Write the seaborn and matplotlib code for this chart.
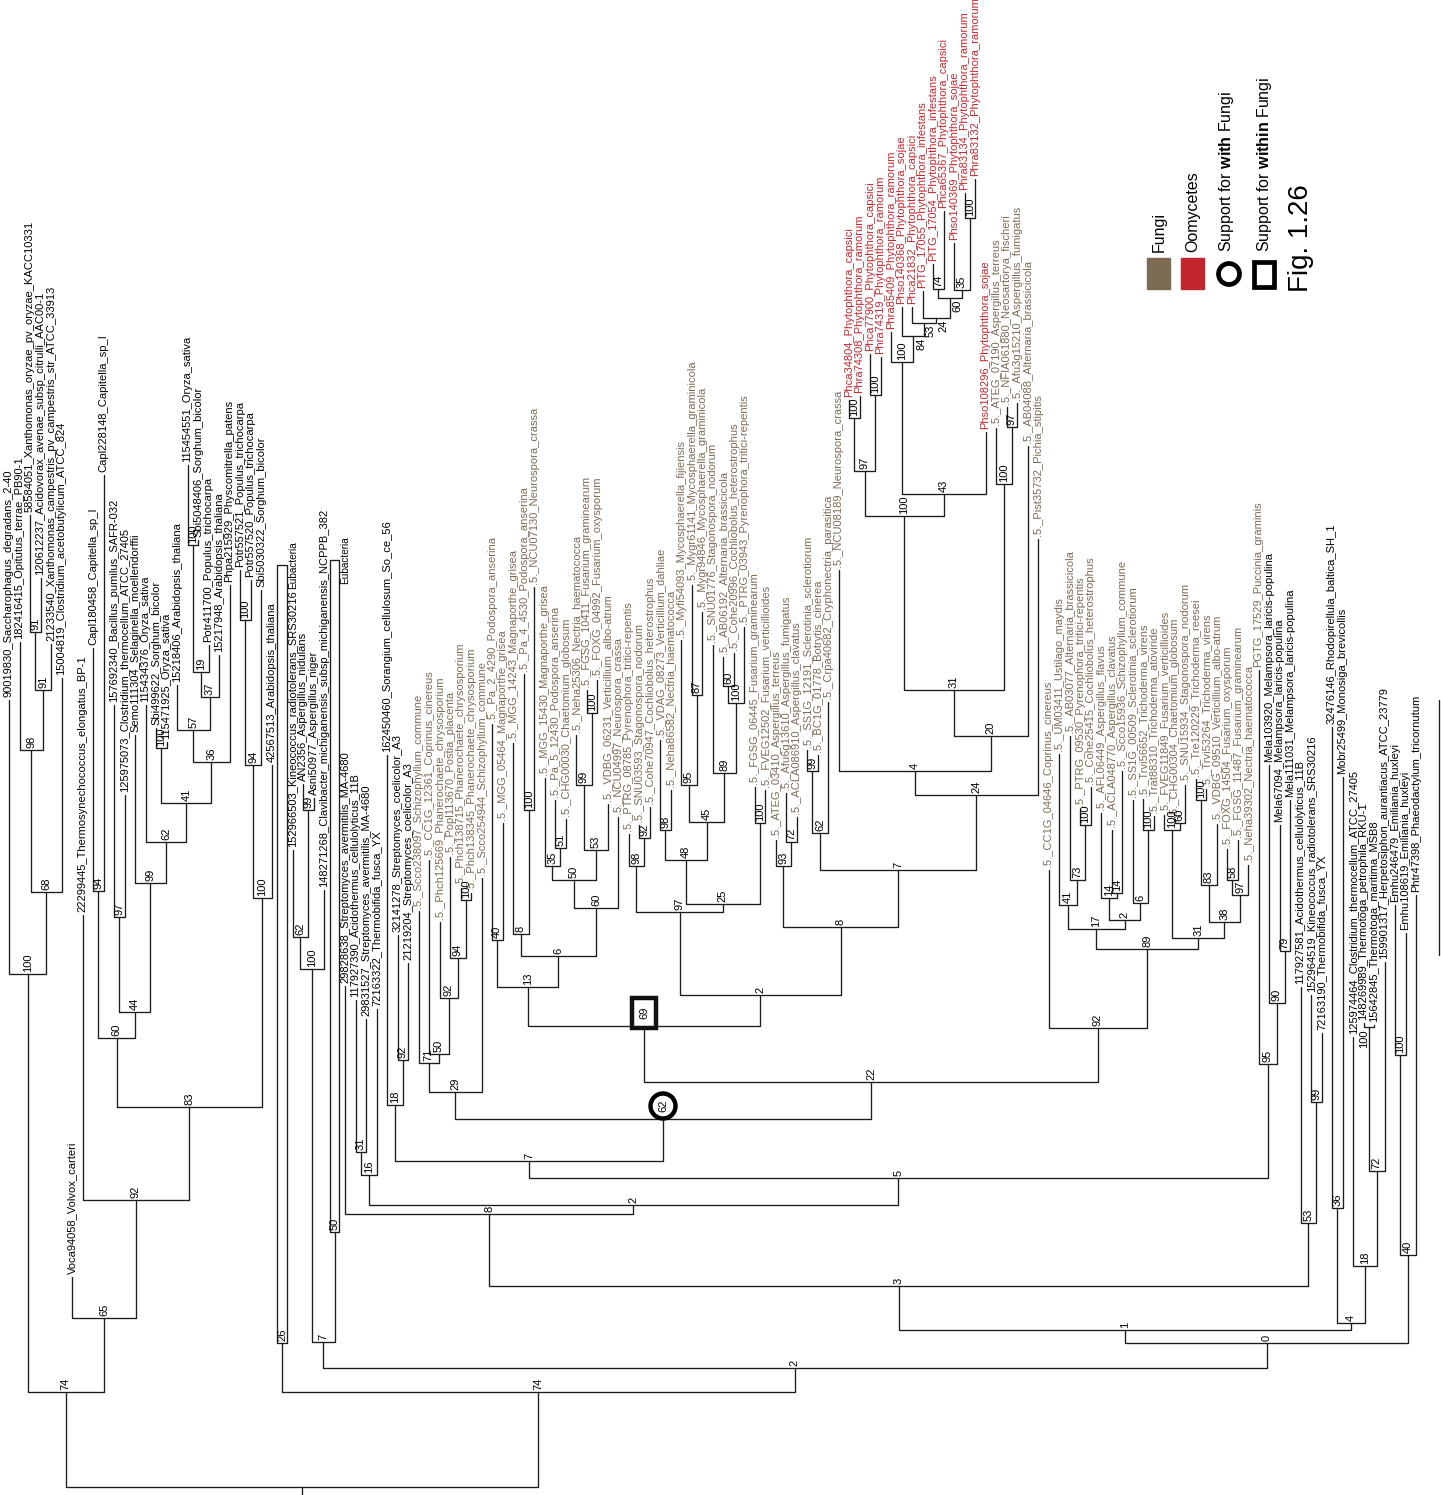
import matplotlib
matplotlib.use("Agg")
import pandas as pd
import matplotlib.pyplot as plt
from matplotlib import font_manager as fm
from matplotlib.patches import Rectangle, Ellipse
import seaborn as sns

# ---- leaves, left to right: (label, depth of the branch tip) ----
bacteria_left = [
    ("90019830_Saccharophagus_degradans_2-40", 700),
    ("182416415_Opitutus_terrae_PB90-1", 642),
    ("58584051_Xanthomonas_oryzae_pv_oryzae_KACC10331", 515),
    ("120612237_Acidovorax_avenae_subsp_citrulli_AAC00-1", 578),
    ("21233540_Xanthomonas_campestris_pv_campestris_str_ATCC_33913", 644),
    ("15004819_Clostridium_acetobutylicum_ATCC_824", 678),
]
plants = [
    ("Voca94058_Volvox_carteri", 1277),
    ("22299445_Thermosynechococcus_elongatus_BP-1", 915),
    ("Capl180458_Capitella_sp_I", 648),
    ("Capl228148_Capitella_sp_I", 475),
    ("157692340_Bacillus_pumilus_SAFR-032", 705),
    ("125975073_Clostridium_thermocellum_ATCC_27405", 795),
    ("Semo111304_Selaginella_moellendorffii", 735),
    ("115434376_Oryza_sativa", 705),
    ("Sbi499622_Sorghum_bicolor", 728),
    ("115471925_Oryza_sativa", 742),
    ("15218406_Arabidopsis_thaliana", 685),
    ("115454551_Oryza_sativa", 465),
    ("Sbi5048406_Sorghum_bicolor", 540),
    ("Potr411700_Populus_trichocarpa", 645),
    ("15217948_Arabidopsis_thaliana", 655),
    ("Phpa215929_Physcomitrella_patens", 585),
    ("Potr557521_Populus_trichocarpa", 570),
    ("Potr557520_Populus_trichocarpa", 580),
    ("Sbi5030322_Sorghum_bicolor", 590),
    ("42567513_Arabidopsis_thaliana", 765),
]
mixed_bacteria = [
    ("Eubacteria", 1343),
    ("152966503_Kineococcus_radiotolerans_SRS30216", 850),
    ("AN2356_Aspergillus_nidulans", 784),
    ("Asni50977_Aspergillus_niger", 798),
    ("148271268_Clavibacter_michiganensis_subsp_michiganensis_NCPPB_382", 890),
    ("Eubacteria", 1232),
    ("29828638_Streptomyces_avermitilis_MA-4680", 986),
    ("117927390_Acidothermus_cellulolyticus_11B", 1000),
    ("29831527_Streptomyces_avermitilis_MA-4680", 1019),
    ("72163322_Thermobifida_fusca_YX", 1009),
    ("162450460_Sorangium_cellulosum_So_ce_56", 755),
    ("32141278_Streptomyces_coelicolor_A3", 935),
    ("21219204_Streptomyces_coelicolor_A3", 963),
]
fungi_mid = [
    (".5._Scco238097_Schizophyllum_commune", 911),
    (".5._CC1G_12361_Coprinus_cinereus", 860),
    (".5._Phch125669_Phanerochaete_chrysosporium", 922),
    (".5._Popl113670_Postia_placenta", 857),
    (".5._Phch138715_Phanerochaete_chrysosporium", 888),
    (".5._Phch138345_Phanerochaete_chrysosporium", 893),
    (".5._Scco254944_Schizophyllum_commune", 878),
    (".5._Pa_2_4290_Podospora_anserina", 724),
    (".5._MGG_05464_Magnaporthe_grisea", 823),
    (".5._MGG_14243_Magnaporthe_grisea", 743),
    (".5._Pa_4_4530_Podospora_anserina", 674),
    (".5._NCU07130_Neurospora_crassa", 587),
    (".5._MGG_15430_Magnaporthe_grisea", 778),
    (".5._Pa_5_12430_Podospora_anserina", 800),
    (".5._CHG00030_Chaetomium_globosum", 819),
    (".5._Neha25306_Nectria_haematococca", 735),
    (".5._FGSG_10411_Fusarium_graminearum", 690),
    (".5._FOXG_04992_Fusarium_oxysporum", 680),
    (".5._VDBG_06231_Verticillium_albo-atrum", 804),
    (".5._NCU04997_Neurospora_crassa", 817),
    (".5._PTRG_08785_Pyrenophora_tritici-repentis", 834),
    (".5._SNU03593_Stagonospora_nodorum", 825),
    (".5._Cohe70947_Cochliobolus_heterostrophus", 807),
    (".5._VDAG_08273_Verticillium_dahliae", 740),
    (".5._Neha86582_Nectria_haematococca", 790),
    (".5._Myfi54093_Mycosphaerella_fijiensis", 640),
    (".5._Mygr61141_Mycosphaerella_graminicola", 585),
    (".5._Mygr94846_Mycosphaerella_graminicola", 612),
    (".5._SNU01776_Stagonospora_nodorum", 645),
    (".5._AB06192_Alternaria_brassicicola", 657),
    (".5._Cohe20996_Cochliobolus_heterostrophus", 653),
    (".5._PTRG_03943_Pyrenophora_tritici-repentis", 627),
    (".5._FGSG_06445_Fusarium_graminearum", 787),
    (".5._FVEG12502_Fusarium_verticillioides", 790),
    (".5._ATEG_03410_Aspergillus_terreus", 840),
    (".5._Afu6g13610_Aspergillus_fumigatus", 793),
    (".5._ACLA086910_Aspergillus_clavatus", 817),
    (".5._SS1G_12191_Sclerotinia_sclerotiorum", 750),
    (".5._BC1G_01778_Botrytis_cinerea", 755),
    (".5._Crpa40682_Cryphonectria_parasitica", 702),
    (".5._NCU08189_Neurospora_crassa", 570),
]
oomycetes = [
    ("Phca34804_Phytophthora_capsici", 400),
    ("Phra74308_Phytophthora_ramorum", 396),
    ("Phca77900_Phytophthora_capsici", 354),
    ("Phra74319_Phytophthora_ramorum", 357),
    ("Phra85409_Phytophthora_ramorum", 332),
    ("Phso140368_Phytophthora_sojae", 307),
    ("Phca21832_Phytophthora_capsici", 307),
    ("PITG_17055_Phytophthora_infestans", 291),
    ("PITG_17054_Phytophthora_infestans", 264),
    ("Phca65367_Phytophthora_capsici", 211),
    ("Phso140369_Phytophthora_sojae", 243),
    ("Phra83134_Phytophthora_ramorum", 193),
    ("Phra83132_Phytophthora_ramorum", 179),
    ("Phso108296_Phytophthora_sojae", 432),
]
fungi_asco = [
    (".5._ATEG_07190_Aspergillus_terreus", 428),
    (".5._NFIA061880_Neosartorya_fischeri", 407),
    (".5._Afu3g15210_Aspergillus_fumigatus", 403),
    (".5._AB04088_Alternaria_brassicicola", 446),
    (".5._Pist35732_Pichia_stipitis", 539),
]
fungi_right = [
    (".5._CC1G_04646_Coprinus_cinereus", 870),
    (".5._UM03411_Ustilago_maydis", 754),
    (".5._AB03077_Alternaria_brassicicola", 736),
    (".5._PTRG_09530_Pyrenophora_tritici-repentis", 809),
    (".5._Cohe25415_Cochliobolus_heterostrophus", 787),
    (".5._AFL06449_Aspergillus_flavus", 813),
    (".5._ACLA048770_Aspergillus_clavatus", 830),
    (".5._Scco15936_Schizophyllum_commune", 771),
    (".5._SS1G_00509_Sclerotinia_sclerotiorum", 800),
    (".5._Trvi56652_Trichoderma_virens", 799),
    (".5._Trat88310_Trichoderma_atoviride", 816),
    (".5._FVEG11849_Fusarium_verticillioides", 815),
    (".5._CHG00304_Chaetomium_globosum", 819),
    (".5._SNU15934_Stagonospora_nodorum", 785),
    (".5._Tre120229_Trichoderma_reesei", 779),
    (".5._Trvi53264_Trichoderma_virens", 789),
    (".5._VDBG_09510_Verticillium_albo-atrum", 824),
    (".5._FOXG_14504_Fusarium_oxysporum", 849),
    (".5._FGSG_11487_Fusarium_graminearum", 840),
    (".5._Neha39302_Nectria_haematococca", 865),
]
others_right = [
    ("PGTG_17529_Puccinia_graminis", 670),
    ("Mela103920_Melampsora_laricis-populina", 765),
    ("Mela67094_Melampsora_laricis-populina", 825),
    ("Mela111031_Melampsora_laricis-populina", 800),
    ("117927581_Acidothermus_cellulolyticus_11B", 987),
    ("152964519_Kineococcus_radiotolerans_SRS30216", 995),
    ("72163190_Thermobifida_fusca_YX", 1033),
    ("32476146_Rhodopirellula_baltica_SH_1", 727),
    ("Mobr25499_Monosiga_brevicollis", 777),
    ("125974464_Clostridium_thermocellum_ATCC_27405", 1037),
    ("148269989_Thermotoga_petrophila_RKU-1", 1023),
    ("15642845_Thermotoga_maritima_MSB8", 1025),
    ("159901317_Herpetosiphon_aurantiacus_ATCC_23779", 962),
    ("Emhu246479_Emiliania_huxleyi", 905),
    ("Emhu108619_Emiliania_huxleyi", 933),
    ("Phtr47398_Phaeodactylum_tricornutum", 895),
]
# collapsed clades: leaf number -> depth of the top of the box
collapsed_top = {27: 565, 32: 560}

# ---- internal nodes: (id, left child, right child, support, depth) ----
# integers are leaf numbers (1-based, left to right)
outgroup_nodes = [
    ("n91a", 3, 4, 91, 632), ("n91b", "n91a", 5, 91, 690),
    ("n98", 2, "n91b", 98, 750), ("n68", "n98", 6, 68, 892),
    ("n100o", 1, "n68", 100, 974),
]
plant_nodes = [
    ("n94c", 9, 10, 94, 891), ("n97b", 11, 12, 97, 917),
    ("n100a", 15, 16, 100, 748), ("n100b", 18, 19, 100, 545),
    ("n19", "n100b", 20, 19, 672), ("n37", "n19", 21, 37, 697),
    ("n57", 17, "n37", 57, 730), ("n36", "n57", 22, 36, 762),
    ("n41", "n100a", "n36", 41, 803), ("n62p", 14, "n41", 62, 842),
    ("n99p", 13, "n62p", 99, 883), ("n44", "n97b", "n99p", 44, 1012),
    ("n60p", "n94c", "n44", 60, 1038), ("n100c", 23, 24, 100, 620),
    ("n94p", "n100c", 25, 94, 765), ("n100d", "n94p", 26, 100, 898),
    ("n83", "n60p", "n100d", 83, 1107), ("n92p", 8, "n83", 92, 1200),
    ("n65", 7, "n92p", 65, 1318), ("n74L", "n100o", "n65", 74, 1392),
]
bacteria_nodes = [
    ("n99k", 29, 30, 99, 810), ("n62k", 28, "n99k", 62, 937),
    ("n100k", "n62k", 31, 100, 969), ("n7k", "n100k", 32, 7, 1342),
    ("n31s", 34, 35, 31, 1152), ("n16", "n31s", 36, 16, 1175),
    ("n92s", 38, 39, 92, 1060), ("n18", 37, "n92s", 18, 1105),
]
basidio_nodes = [
    ("n100ph", 44, 45, 100, 900), ("n94ph", 43, "n100ph", 94, 958),
    ("n92ph", 42, "n94ph", 92, 998), ("n50ph", 41, "n92ph", 50, 1054),
    ("n71", 40, "n50ph", 71, 1063), ("n29", "n71", 46, 29, 1092),
]
sordario_nodes = [
    ("n40f", 47, 48, 40, 940), ("n100f", 50, 51, 100, 810),
    ("n8f", 49, "n100f", 8, 934), ("n51", 53, 54, 51, 848),
    ("n35", 52, "n51", 35, 866), ("n100fo", 56, 57, 100, 713),
    ("n99f", 55, "n100fo", 99, 785), ("n53", "n99f", 58, 53, 850),
    ("n50f", "n35", "n53", 50, 880), ("n60f", "n50f", 59, 60, 908),
    ("n6f", "n8f", "n60f", 6, 956), ("n13", "n40f", "n6f", 13, 987),
]
dothideo_nodes = [
    ("n92c", 61, 62, 92, 838), ("n98c", 60, "n92c", 98, 866),
    ("n98v", 63, 64, 98, 830), ("n87", 66, 67, 87, 695),
    ("n95m", 65, "n87", 95, 785), ("n60a", 69, 70, 60, 686),
    ("n100a2", "n60a", 71, 100, 703), ("n89", 68, "n100a2", 89, 773),
    ("n45", "n95m", "n89", 45, 822), ("n48", "n98v", "n45", 48, 860),
    ("n100fg", 72, 73, 100, 823), ("n25", "n48", "n100fg", 25, 904),
    ("n97f", "n98c", "n25", 97, 912), ("n72", 75, 76, 72, 842),
    ("n93", 74, "n72", 93, 866), ("n99s", 77, 78, 99, 771),
    ("n62s", "n99s", 79, 62, 833),
]
oomycete_nodes = [
    ("n100p1", 81, 82, 100, 418), ("n100p2", 83, 84, 100, 395),
    ("n97p", "n100p1", "n100p2", 97, 471), ("n100p3", 92, 93, 100, 218),
    ("n35p", 91, "n100p3", 35, 290), ("n74p", 89, 90, 74, 289),
    ("n60pp", "n74p", "n35p", 60, 298), ("n24p", 88, "n60pp", 24, 318),
    ("n53p", 87, "n24p", 53, 323), ("n84", 86, "n53p", 84, 336),
    ("n100p4", 85, "n84", 100, 362), ("n43", "n100p4", 94, 43, 494),
    ("n100P", "n97p", "n43", 100, 516),
]
mixed_fungi_nodes = [
    ("n97a", 96, 97, 97, 427), ("n100A", 95, "n97a", 100, 484),
    ("n31m", "n100P", "n100A", 31, 690), ("n20", "n31m", 98, 20, 736),
    ("n4m", 80, "n20", 4, 771), ("n24m", "n4m", 99, 24, 795),
    ("n7m", "n62s", "n24m", 7, 870), ("n8m", "n93", "n7m", 8, 927),
    ("n2m", "n97f", "n8m", 2, 995), ("n69", "n13", "n2m", 69, 1026),
]
right_fungi_nodes = [
    ("n100r1", 103, 104, 100, 825), ("n73", 102, "n100r1", 73, 880),
    ("n41r", 101, "n73", 41, 905), ("n14b", 106, 107, 14, 893),
    ("n14a", 105, "n14b", 14, 898), ("n100r2", 109, 110, 100, 830),
    ("n6r", 108, "n100r2", 6, 903), ("n2r", "n14a", "n6r", 2, 920),
    ("n17", "n41r", "n2r", 17, 929), ("n60r", 112, 113, 60, 823),
    ("n100r3", 111, "n60r", 100, 830), ("n100r4", 114, 115, 100, 800),
    ("n83r", "n100r4", 116, 83, 885), ("n58", 117, 118, 58, 880),
    ("n97r", "n58", 119, 97, 895), ("n38", "n83r", "n97r", 38, 922),
    ("n31r", "n100r3", "n38", 31, 938), ("n89r", "n17", "n31r", 89, 949),
    ("n92r", 100, "n89r", 92, 1028),
]
backbone_nodes = [
    ("n22", "n69", "n92r", 22, 1082), ("n62c", "n29", "n22", 62, 1119),
    ("n7c", "n18", "n62c", 7, 1161), ("n79", 122, 123, 79, 951),
    ("n90", 121, "n79", 90, 1003), ("n95", 120, "n90", 95, 1064),
    ("n5", "n7c", "n95", 5, 1178), ("n2c", "n16", "n5", 2, 1205),
    ("n8c", 33, "n2c", 8, 1214), ("n99t", 125, 126, 99, 1102),
    ("n53t", 124, "n99t", 53, 1223), ("n3", "n8c", "n53t", 3, 1286),
    ("n36t", 127, 128, 36, 1208), ("n100t", 130, 131, 100, 1027),
    ("n72t", "n100t", 132, 72, 1171), ("n18t", 129, "n72t", 18, 1266),
    ("n4t", "n36t", "n18t", 4, 1323), ("n1", "n3", "n4t", 1, 1330),
    ("n100e", 133, 134, 100, 1055), ("n40e", "n100e", 135, 40, 1255),
    ("n0", "n1", "n40e", 0, 1343), ("n2b", "n7k", "n0", 2, 1368),
    ("n74R", 27, "n2b", 74, 1392), ("root", "n74L", "n74R", None, 1487),
]
collapsed_support = {27: 26, 32: 50}
circled_nodes = ["n62c"]       # support for grouping with Fungi
boxed_nodes = ["n69"]          # support for grouping within Fungi
labels_below = {"n84": 0.8, "n53p": 0.6, "n24p": 0.7, "n60pp": 0.7, "n100t": -0.4}
root_stub = 8
scale_bar = 255

FUNGI = "#7d6b56"
OOMY = "#c4262e"
INK = "#1c1c1c"

leaves = (bacteria_left + plants + mixed_bacteria + fungi_mid + oomycetes
          + fungi_asco + fungi_right + others_right)
nodes = (outgroup_nodes + plant_nodes + bacteria_nodes + basidio_nodes + sordario_nodes
         + dothideo_nodes + oomycete_nodes + mixed_fungi_nodes + right_fungi_nodes
         + backbone_nodes)

# ---- layout: leaves on an index axis, parents midway between children ----
pos = {i: (i - 1, tip) for i, (_, tip) in enumerate(leaves, start=1)}
node_map = {n[0]: n for n in nodes}


def place(key):
    if key not in pos:
        _, a, b, _, depth = node_map[key]
        pos[key] = ((place(a)[0] + place(b)[0]) / 2, depth)
    return pos[key]


for n in nodes:
    place(n[0])

rows = []
for k, (nid, a, b, sup, depth) in enumerate(nodes):
    (xa, ya), (xb, yb) = pos[a], pos[b]
    for x, y in [(xa, ya), (xa, depth), (xb, depth), (xb, yb)]:
        rows.append((nid, x, y))
rx, ry = pos["root"]
rows += [("stub", rx, ry), ("stub", rx, ry + root_stub)]
for leaf, top in collapsed_top.items():
    x, bottom = pos[leaf]
    for px, py in [(x - 0.45, bottom), (x - 0.45, top), (x + 0.45, top),
                   (x + 0.45, bottom), (x - 0.45, bottom)]:
        rows.append((f"box{leaf}", px, py))
n_leaf = len(leaves)
rows += [("scale", n_leaf + 1.2, 700), ("scale", n_leaf + 1.2, 700 + scale_bar)]
seg = pd.DataFrame(rows, columns=["seg", "x", "y"])

# ---- style ----
sns.set_theme(style="white")
avail = {f.name for f in fm.fontManager.ttflist}
if "Liberation Sans Narrow" in avail:
    LABEL_FONT, LABEL_SIZE = "Liberation Sans Narrow", 9.8
else:
    LABEL_FONT, LABEL_SIZE = "Liberation Sans", 8.0
plt.rcParams["font.family"] = [LABEL_FONT, "DejaVu Sans"]
plt.rcParams["mathtext.fontset"] = "custom"
plt.rcParams["mathtext.rm"] = "Liberation Sans"
plt.rcParams["mathtext.bf"] = "Liberation Sans:bold"

W, H = 1441, 1495
fig = plt.figure(figsize=(W / 100, H / 100), dpi=100)
ax = fig.add_axes([0, 0, 1, 1])
sns.lineplot(data=seg, x="x", y="y", units="seg", estimator=None, sort=False,
             color=INK, linewidth=0.95, ax=ax, legend=False)
ax.set_xlim(-9 / 10.5, (W - 9) / 10.5)
ax.set_ylim(H, 0)
ax.axis("off")


def leaf_color(name):
    if "Phytophthora" in name:
        return OOMY
    if name.startswith(".5._") or name.startswith("PGTG"):
        return FUNGI
    return "black"


for i, (name, tip) in enumerate(leaves, start=1):
    x = pos[i][0]
    if i in collapsed_top:
        ax.text(x + 0.55, collapsed_top[i], name, rotation=90, ha="left", va="center",
                fontsize=LABEL_SIZE - 0.8, color="black")
        ax.text(x, tip - 2, str(collapsed_support[i]), rotation=90, ha="center",
                va="bottom", fontsize=LABEL_SIZE, color="black")
        continue
    ax.text(x, tip - 3, name, rotation=90, ha="center", va="bottom",
            fontsize=LABEL_SIZE, color=leaf_color(name))

for nid, a, b, sup, depth in nodes:
    if sup is None:
        continue
    x = pos[nid][0]
    if nid in circled_nodes or nid in boxed_nodes:
        cy = depth - 13
        if nid in circled_nodes:
            ax.add_patch(Ellipse((x, cy), 25 / 10.5, 25, fc="white", ec="black",
                                 lw=3.2, zorder=5))
        else:
            ax.add_patch(Rectangle((x - 12 / 10.5, cy - 15), 24 / 10.5, 30, fc="white",
                                   ec="#111111", lw=3.2, zorder=5))
        ax.text(x, cy, str(sup), rotation=90, ha="center", va="center",
                fontsize=LABEL_SIZE, color="black", zorder=6)
    elif nid in labels_below:
        ax.text(x + labels_below[nid], depth + 2, str(sup), rotation=90, ha="center",
                va="top", fontsize=LABEL_SIZE, color="black")
    else:
        ax.text(x, depth - 2, str(sup), rotation=90, ha="center", va="bottom",
                fontsize=LABEL_SIZE, color="black")

# ---- legend (rotated, top right) ----
def fx(px):
    return px / W


def fy(py):
    return 1 - py / H


fig.patches.append(Rectangle((fx(1147), fy(289)), 23 / W, 31 / H, color=FUNGI,
                             transform=fig.transFigure))
fig.patches.append(Rectangle((fx(1181), fy(289)), 23 / W, 31 / H, color=OOMY,
                             transform=fig.transFigure))
fig.patches.append(Ellipse((fx(1229), fy(274)), 21 / W, 21 / H, fc="none", ec="black",
                           lw=3.4, transform=fig.transFigure))
fig.patches.append(Rectangle((fx(1254), fy(287)), 20 / W, 25 / H, fc="none", ec="black",
                             lw=3.4, transform=fig.transFigure))
legend_texts = ["Fungi", "Oomycetes", "Support for $\\mathbf{with}$ Fungi",
                "Support for $\\mathbf{within}$ Fungi"]
for px, txt in zip([1159, 1193, 1227, 1264], legend_texts):
    fig.text(fx(px), fy(252), txt, rotation=90, ha="center", va="bottom",
             fontsize=11.5, family="Liberation Sans", color="black")
fig.text(fx(1301), fy(292), "Fig. 1.26", rotation=90, ha="center", va="bottom",
         fontsize=20, family="Liberation Sans", color="black")

fig.savefig("out.png", dpi=100)
